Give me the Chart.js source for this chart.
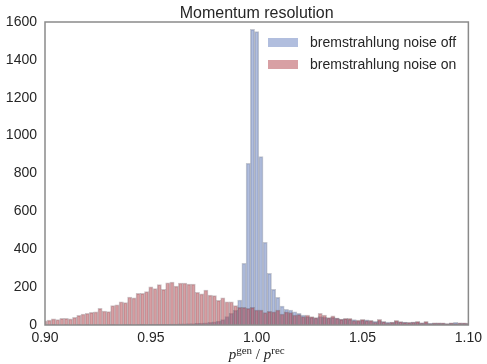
<!DOCTYPE html>
<html>
<head>
<meta charset="utf-8">
<script src="https://cdn.jsdelivr.net/npm/chart.js@4.4.0/dist/chart.umd.min.js"></script>
<style>
html, body { margin: 0; padding: 0; background: #fff; }
#wrap { width: 487px; height: 364px; }
</style>
</head>
<body>
<div id="wrap"><canvas id="chart" width="487" height="364"></canvas></div>
<script>
// histogram bins: centre of first bin and bin width
var binStart = 0.9;
var binWidth = 0.002;

// counts per bin
var noiseOff = [
    0, 0, 1, 0, 0, 1, 0, 0, 1, 0, 1, 0, 1, 1, 0, 1, 2, 1, 1, 2,
    2, 1, 2, 3, 2, 3, 3, 3, 4, 4, 5, 5, 6, 6, 7, 8, 9, 10, 12, 14,
    17, 21, 28, 45, 62, 78, 132, 326, 854, 1561, 1549, 889, 437, 273, 188, 146, 100, 83, 79, 70,
    62, 53, 44, 40, 38, 45, 42, 38, 40, 36, 30, 33, 30, 28, 22, 26, 27, 22, 20, 24,
    18, 15, 14, 20, 17, 15, 13, 16, 15, 11, 14, 9, 10, 10, 9, 8, 10, 14, 10, 9,
    8
];
var noiseOn = [
    22, 26, 32, 28, 35, 35, 32, 41, 51, 58, 62, 67, 69, 88, 74, 71, 102, 107, 123, 118,
    148, 143, 167, 167, 176, 201, 192, 213, 188, 223, 227, 205, 222, 222, 216, 216, 173, 164, 185, 158,
    155, 130, 144, 123, 123, 102, 93, 93, 88, 93, 79, 79, 65, 72, 69, 79, 58, 69, 66, 53,
    55, 44, 53, 44, 39, 62, 53, 39, 49, 37, 31, 35, 35, 23, 26, 30, 23, 25, 16, 30,
    18, 12, 16, 25, 18, 14, 14, 16, 19, 12, 19, 7, 11, 11, 11, 7, 11, 8, 12, 12,
    10
];

var seriesNames = ['bremstrahlung noise off', 'bremstrahlung noise on'];
var xTicks = [0.90, 0.95, 1.00, 1.05, 1.10];
var yTicks = [0, 200, 400, 600, 800, 1000, 1200, 1400, 1600];
var titleText = 'Momentum resolution';

var textColor = '#262626';
var blueFill = 'rgba(99, 125, 189, 0.5)';
var redFill = 'rgba(177, 65, 73, 0.5)';

function toPoints(counts) {
    return counts.map(function(c, i) {
        return { x: binStart + i * binWidth, y: c };
    });
}

// frame, title, legend and math axis label
var decorations = {
    id: 'decorations',
    afterDatasetsDraw: function(chart) {
        var ctx = chart.ctx;
        var a = chart.chartArea;
        ctx.save();

        // legend
        ctx.font = '14px "Liberation Sans", Arial, sans-serif';
        ctx.textBaseline = 'middle';
        ctx.textAlign = 'left';
        chart.data.datasets.forEach(function(ds, i) {
            var y = 38 + i * 22;
            ctx.fillStyle = ds.backgroundColor;
            ctx.fillRect(268, y, 30, 9);
            ctx.fillStyle = textColor;
            ctx.fillText(ds.label, 310, y + 5);
        });

        // frame
        ctx.strokeStyle = '#8a8a8a';
        ctx.lineWidth = 1.5;
        ctx.strokeRect(a.left, a.top, a.right - a.left, a.bottom - a.top);

        // title
        ctx.fillStyle = textColor;
        ctx.font = '16px "Liberation Sans", Arial, sans-serif';
        ctx.textAlign = 'center';
        ctx.textBaseline = 'alphabetic';
        ctx.fillText(titleText, (a.left + a.right) / 2, 18);

        // x label: p^gen / p^rec
        var parts = [
            { t: 'p', f: 'italic 15px "Liberation Serif", serif', dy: 0 },
            { t: 'gen', f: '11px "Liberation Serif", serif', dy: -5 },
            { t: ' / ', f: '15px "Liberation Serif", serif', dy: 0 },
            { t: 'p', f: 'italic 15px "Liberation Serif", serif', dy: 0 },
            { t: 'rec', f: '11px "Liberation Serif", serif', dy: -5 }
        ];
        var total = 0;
        parts.forEach(function(p) {
            ctx.font = p.f;
            p.w = ctx.measureText(p.t).width;
            total += p.w;
        });
        var x = (a.left + a.right) / 2 - total / 2;
        ctx.textAlign = 'left';
        parts.forEach(function(p) {
            ctx.font = p.f;
            ctx.fillText(p.t, x, 359 + p.dy);
            x += p.w;
        });
        ctx.restore();
    }
};

var ctx = document.getElementById('chart').getContext('2d');
var chart = new Chart(ctx, {
    type: 'bar',
    data: {
        datasets: [{
            label: seriesNames[0],
            data: toPoints(noiseOff),
            backgroundColor: blueFill,
            borderColor: 'rgba(60, 70, 100, 0.3)',
            borderWidth: 1,
            order: 1
        }, {
            label: seriesNames[1],
            data: toPoints(noiseOn),
            backgroundColor: redFill,
            borderColor: 'rgba(90, 50, 60, 0.3)',
            borderWidth: 1,
            order: 0
        }]
    },
    options: {
        responsive: false,
        animation: false,
        devicePixelRatio: 1,
        grouped: false,
        barPercentage: 1,
        categoryPercentage: 1,
        layout: { padding: { top: 22, right: 15, left: 0, bottom: 0 } },
        plugins: {
            legend: { display: false },
            tooltip: { enabled: false },
            title: { display: false }
        },
        scales: {
            x: {
                type: 'linear',
                min: 0.9,
                max: 1.1,
                offset: false,
                grid: { display: false, drawTicks: false, offset: false },
                border: { display: false },
                afterBuildTicks: function(scale) {
                    scale.ticks = xTicks.map(function(v) { return { value: v }; });
                },
                afterFit: function(scale) { scale.height = 39; },
                ticks: {
                    color: textColor,
                    font: { family: '"Liberation Sans", Arial, sans-serif', size: 14 },
                    padding: 5,
                    maxRotation: 0,
                    autoSkip: false,
                    callback: function(v) { return v.toFixed(2); }
                }
            },
            y: {
                min: 0,
                max: 1600,
                grid: { display: false, drawTicks: false },
                border: { display: false },
                afterBuildTicks: function(scale) {
                    scale.ticks = yTicks.map(function(v) { return { value: v }; });
                },
                afterFit: function(scale) { scale.width = 45; },
                ticks: {
                    color: textColor,
                    font: { family: '"Liberation Sans", Arial, sans-serif', size: 14 },
                    padding: 8,
                    callback: function(v) { return String(v); }
                }
            }
        }
    },
    plugins: [decorations]
});
</script>
</body>
</html>
